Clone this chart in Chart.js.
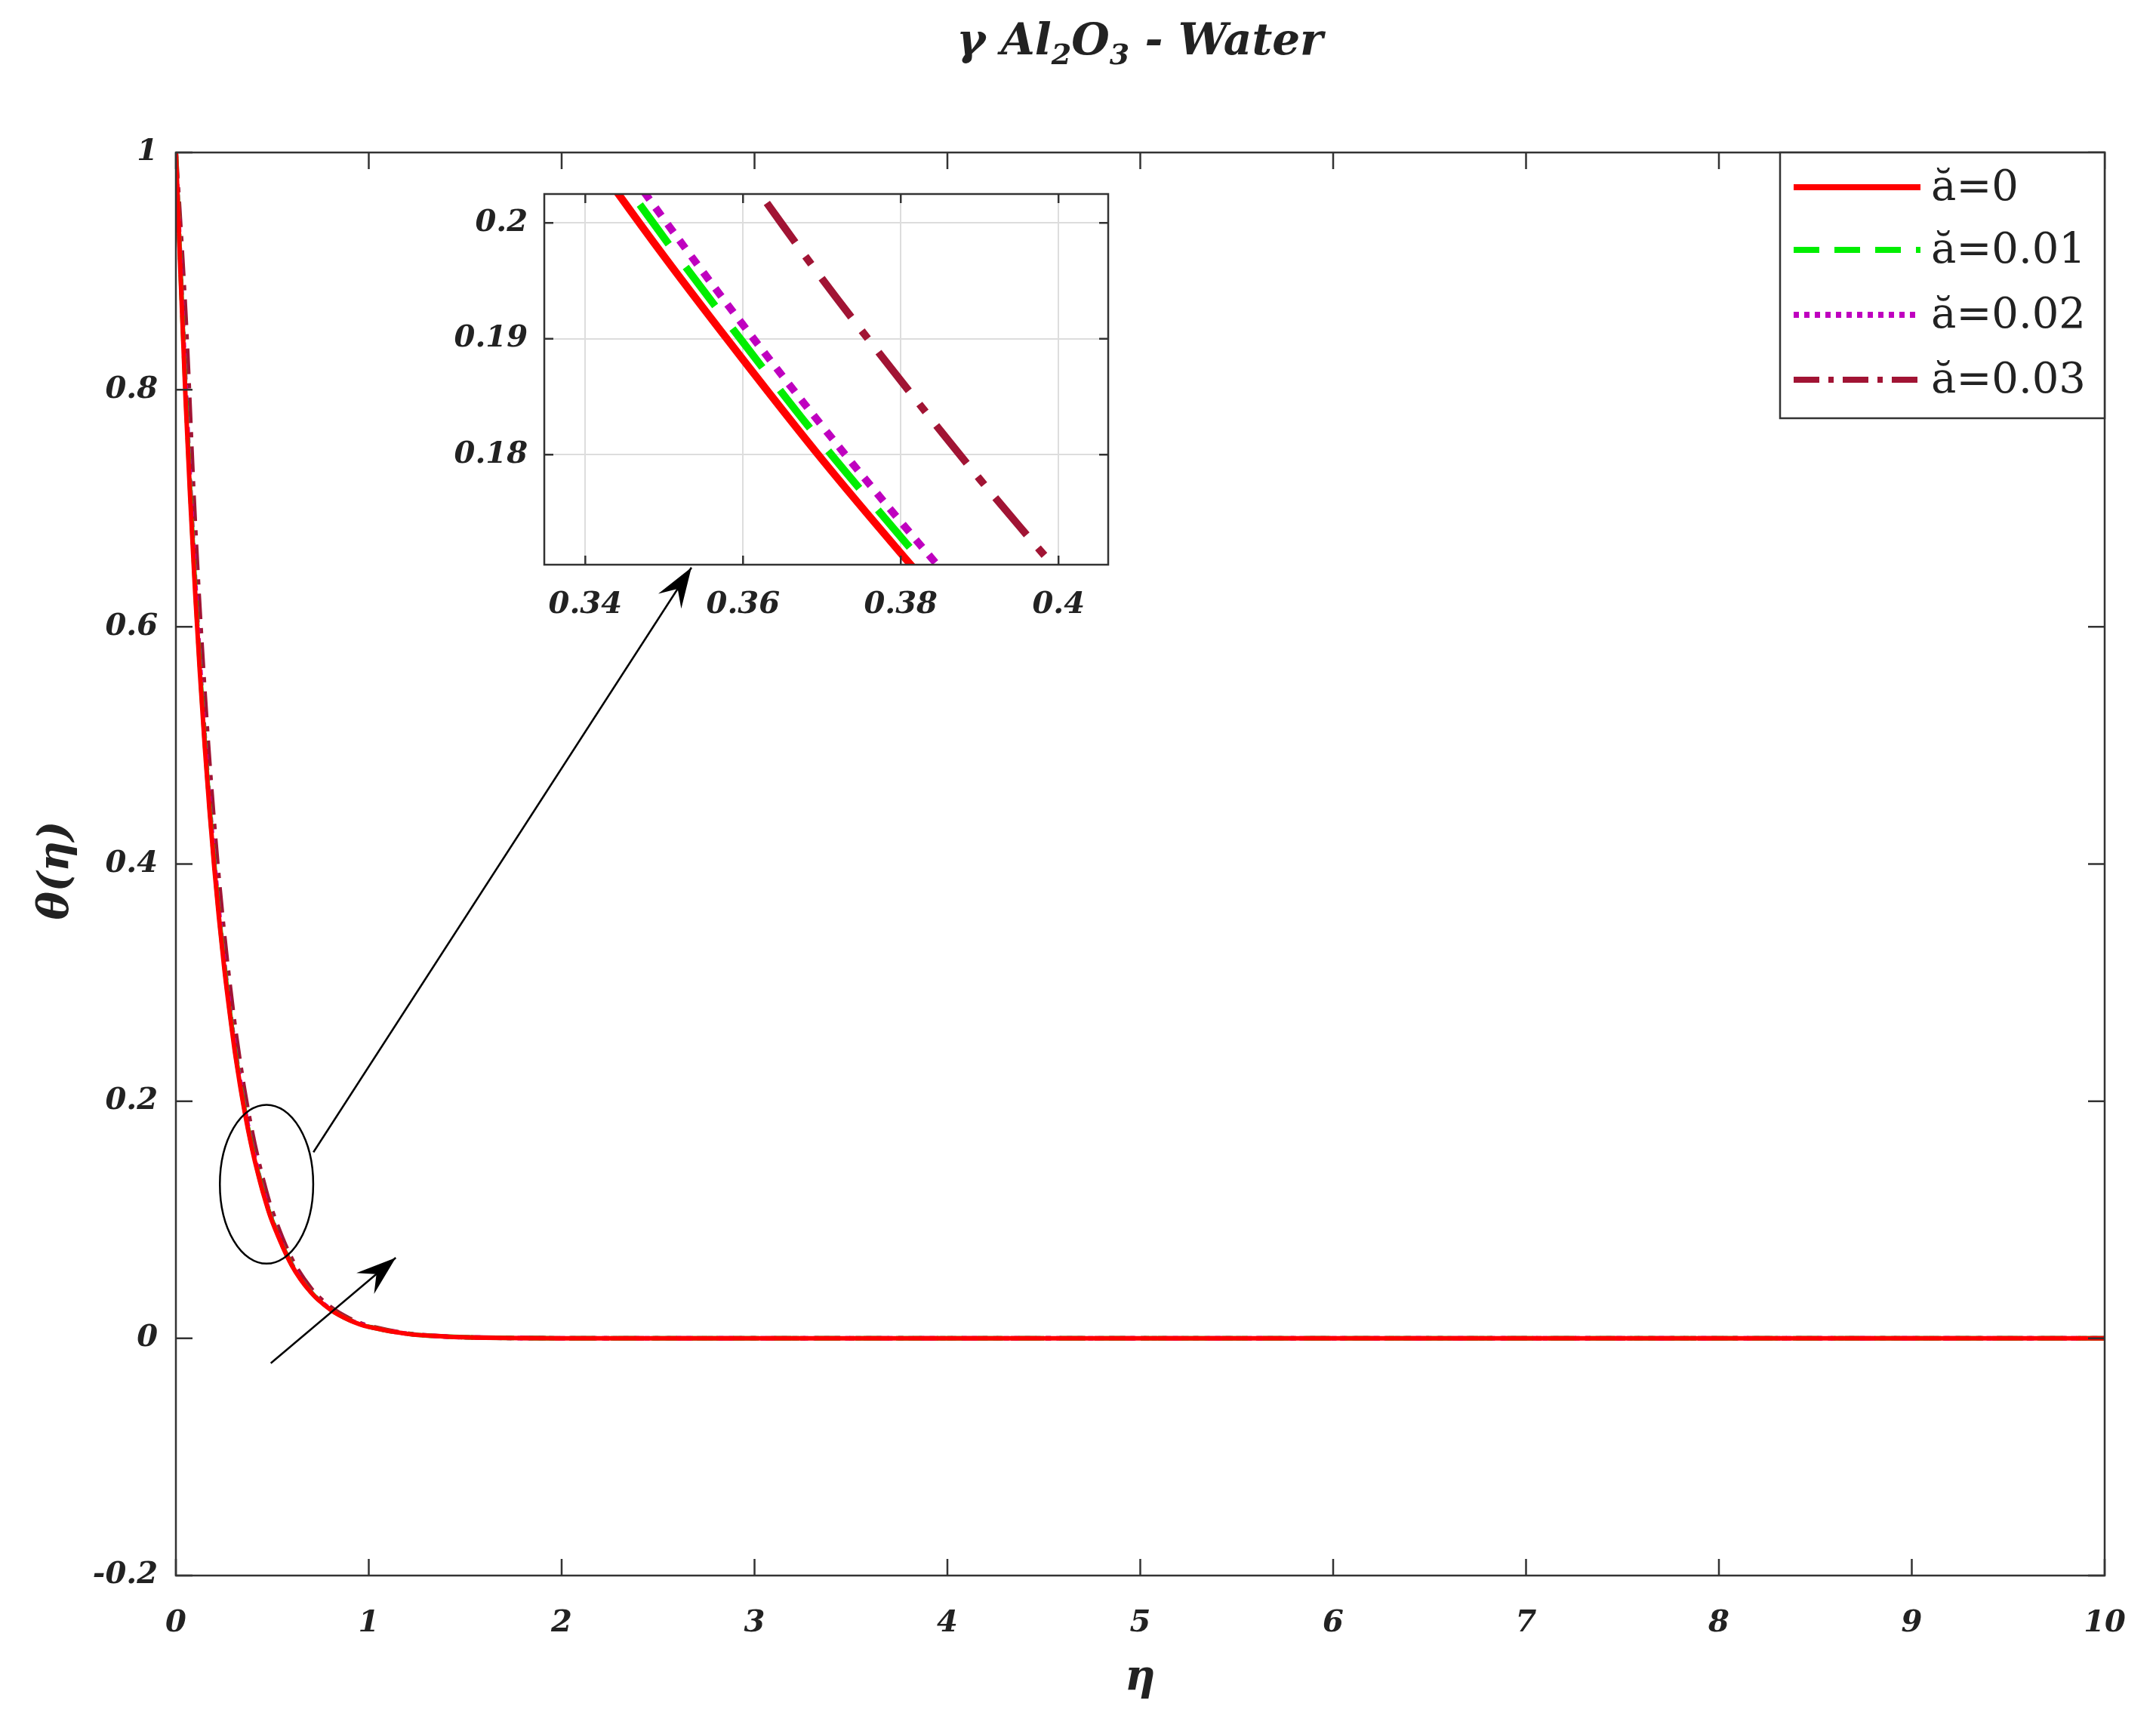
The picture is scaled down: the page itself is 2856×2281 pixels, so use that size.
<!DOCTYPE html>
<html><head><meta charset="utf-8">
<script src="https://cdn.jsdelivr.net/npm/chart.js@4"></script>
<style>
body{margin:0;background:#fff;width:2856px;height:2281px;position:relative;overflow:hidden;font-family:"DejaVu Serif",serif}
canvas{position:absolute}
.t{position:absolute;font-weight:bold;font-style:italic;color:#222}
</style></head><body>
<canvas id="main" width="2856" height="2281" style="left:0;top:0;width:2856px;height:2281px"></canvas>
<canvas id="inset" width="940" height="639" style="left:560px;top:211px;width:940px;height:639px"></canvas>
<div class="t" style="left:0;width:3020px;top:18px;text-align:center;font-size:58px;font-family:'DejaVu Serif'">γ Al<sub style="font-size:38px">2</sub>O<sub style="font-size:38px">3</sub> - Water</div>
<div class="t" style="left:1490px;top:2185px;font-size:56px">η</div>
<div class="t" style="left:-10px;top:1120px;font-size:56px;transform:rotate(-90deg);transform-origin:center;width:160px;text-align:center">θ(η)</div>
<script>
const eta = [0,0.05,0.1,0.15,0.2,0.25,0.3,0.33,0.34,0.35,0.36,0.37,0.38,0.39,0.4,0.41,0.45,0.5,0.6,0.7,0.8,0.9,1,1.2,1.4,1.6,2,3,4,5,6,7,8,9,10];
const theta_a0 = [1,0.7929,0.6288,0.4986,0.3953,0.3135,0.2486,0.2163,0.2065,0.1971,0.1882,0.1796,0.1715,0.1637,0.1563,0.1492,0.1240,0.0983,0.0618,0.0388,0.0244,0.0154,0.0097,0.0038,0.0015,0.0006,0.0001,0,0,0,0,0,0,0,0];
const theta_a001 = [1,0.7990,0.6340,0.5026,0.3985,0.3160,0.2506,0.2180,0.2082,0.1987,0.1897,0.1810,0.1729,0.1650,0.1576,0.1504,0.1250,0.0991,0.0623,0.0391,0.0246,0.0155,0.0098,0.0038,0.0015,0.0006,0.0001,0,0,0,0,0,0,0,0];
const theta_a002 = [1,0.8056,0.6389,0.5066,0.4016,0.3185,0.2526,0.2198,0.2098,0.2003,0.1912,0.1825,0.1742,0.1663,0.1588,0.1516,0.1260,0.0999,0.0628,0.0394,0.0248,0.0156,0.0099,0.0039,0.0015,0.0006,0.0001,0,0,0,0,0,0,0,0];
const theta_a003 = [1,0.8619,0.6835,0.5420,0.4297,0.3408,0.2702,0.2351,0.2245,0.2142,0.2046,0.1952,0.1864,0.1779,0.1699,0.1622,0.1348,0.1069,0.0672,0.0422,0.0265,0.0167,0.0105,0.0041,0.0016,0.0007,0.0001,0,0,0,0,0,0,0,0];
const seriesLabels = ["ă=0","ă=0.01","ă=0.02","ă=0.03"];
const xTicksMain = [0,1,2,3,4,5,6,7,8,9,10];
const yTicksMain = [-0.2,0,0.2,0.4,0.6,0.8,1];
const xTicksInset = [0.34,0.36,0.38,0.4];
const yTicksInset = [0.18,0.19,0.2];

const colors = ["#ff0000","#00ee00","#bf00bf","#a11434"];
const dashes = [[],[34,20],[7,7],[34,12,7,12]];
const allY = [theta_a0,theta_a001,theta_a002,theta_a003];
const tickFont = {family:"DejaVu Serif",size:40,weight:"bold",style:"italic"};
const fmt = v => String(parseFloat(v.toFixed(3)));

function mkData(scaleDash, lw){
  return {datasets: allY.map((ys,i)=>({label:seriesLabels[i],data:eta.map((x,j)=>({x,y:ys[j]})),
    borderColor:colors[i],borderWidth:lw,borderDash:dashes[i].map(d=>d*scaleDash),pointRadius:0,tension:0.35,fill:false}))};
}
function boxTicks(opts){ return {id:'box',afterDraw(c){
  const {ctx,chartArea:a,scales:{x,y}}=c; ctx.save(); ctx.strokeStyle='#333'; ctx.lineWidth=opts.lw;
  ctx.strokeRect(a.left,a.top,a.right-a.left,a.bottom-a.top);
  const L=opts.len; ctx.beginPath();
  opts.xt.forEach(v=>{const p=x.getPixelForValue(v); ctx.moveTo(p,a.bottom);ctx.lineTo(p,a.bottom-L);ctx.moveTo(p,a.top);ctx.lineTo(p,a.top+L);});
  opts.yt.forEach(v=>{const p=y.getPixelForValue(v); ctx.moveTo(a.left,p);ctx.lineTo(a.left+L,p);ctx.moveTo(a.right,p);ctx.lineTo(a.right-L,p);});
  ctx.stroke(); ctx.restore();}}; }

const bg={id:'bg',beforeDraw(c){const {ctx,chartArea:a}=c;ctx.save();ctx.fillStyle='#fff';ctx.fillRect(a.left,a.top,a.right-a.left,a.bottom-a.top);ctx.restore();}};

const annot={id:'annot',afterDraw(c){
  const {ctx,scales:{x,y}}=c; ctx.save(); ctx.strokeStyle='#000'; ctx.fillStyle='#000'; ctx.lineWidth=2.5;
  const cx=x.getPixelForValue(0.47), cy=y.getPixelForValue(0.13);
  const rx=x.getPixelForValue(0.47+0.242)-cx, ry=cy-y.getPixelForValue(0.13+0.067);
  ctx.beginPath(); ctx.ellipse(cx,cy,rx,ry,0,0,2*Math.PI); ctx.stroke();
  function arrow(x1,y1,x2,y2){const X1=x.getPixelForValue(x1),Y1=y.getPixelForValue(y1),X2=x.getPixelForValue(x2),Y2=y.getPixelForValue(y2);
    ctx.beginPath();ctx.moveTo(X1,Y1);ctx.lineTo(X2,Y2);ctx.stroke();
    const ang=Math.atan2(Y2-Y1,X2-X1),h=56,w=0.33;
    ctx.beginPath();ctx.moveTo(X2,Y2);ctx.lineTo(X2-h*Math.cos(ang-w),Y2-h*Math.sin(ang-w));
    ctx.lineTo(X2-h*0.6*Math.cos(ang),Y2-h*0.6*Math.sin(ang));
    ctx.lineTo(X2-h*Math.cos(ang+w),Y2-h*Math.sin(ang+w));ctx.closePath();ctx.fill();}
  arrow(0.713,0.157,2.673,0.650); arrow(0.492,-0.021,1.140,0.068);
  const lx=2358,ly=202,lw=430,lh=352; ctx.fillStyle='#fff';ctx.fillRect(lx,ly,lw,lh);
  ctx.strokeStyle='#333';ctx.lineWidth=2.5;ctx.strokeRect(lx,ly,lw,lh);
  const rows=[248,331,417,503];
  rows.forEach((ry2,i)=>{ctx.strokeStyle=colors[i];ctx.lineWidth=8;ctx.setLineDash(dashes[i]);
    ctx.beginPath();ctx.moveTo(2376,ry2);ctx.lineTo(2544,ry2);ctx.stroke();ctx.setLineDash([]);
    ctx.fillStyle='#222';ctx.font='56px "DejaVu Serif"';ctx.textBaseline='middle';ctx.fillText(seriesLabels[i],2558,ry2+2);});
  ctx.restore();}};

new Chart(document.getElementById('main'),{type:'line',data:mkData(1,6),
  options:{responsive:false,animation:false,devicePixelRatio:1,
    layout:{padding:{top:202,right:68,left:0,bottom:0}},
    plugins:{legend:{display:false},tooltip:{enabled:false}},
    scales:{
      x:{type:'linear',min:0,max:10,grid:{display:false},border:{display:false},
        afterBuildTicks:s=>{s.ticks=xTicksMain.map(v=>({value:v}));},
        afterFit:s=>{s.height=194;},
        ticks:{font:tickFont,color:'#222',padding:32,maxRotation:0,callback:v=>fmt(v)}},
      y:{type:'linear',min:-0.2,max:1,grid:{display:false},border:{display:false},
        afterBuildTicks:s=>{s.ticks=yTicksMain.map(v=>({value:v}));},
        afterFit:s=>{s.width=233;},
        ticks:{font:tickFont,color:'#222',padding:16,callback:v=>fmt(v)}}}},
  plugins:[boxTicks({lw:2.5,len:22,xt:xTicksMain,yt:yTicksMain}),annot]});

new Chart(document.getElementById('inset'),{type:'line',data:mkData(1.9,10),
  options:{responsive:false,animation:false,devicePixelRatio:1,
    layout:{padding:{top:17,right:32,left:0,bottom:0}},
    plugins:{legend:{display:false},tooltip:{enabled:false}},
    scales:{
      x:{type:'linear',min:0.3348,max:0.4063,grid:{color:'#ddd',lineWidth:2,drawTicks:false},border:{display:false},
        afterBuildTicks:s=>{s.ticks=xTicksInset.map(v=>({value:v}));},
        afterFit:s=>{s.height=102;},
        ticks:{font:tickFont,color:'#222',padding:30,maxRotation:0,callback:v=>fmt(v)}},
      y:{type:'linear',min:0.1705,max:0.2025,grid:{color:'#ddd',lineWidth:2,drawTicks:false},border:{display:false},
        afterBuildTicks:s=>{s.ticks=yTicksInset.map(v=>({value:v}));},
        afterFit:s=>{s.width=161;},
        ticks:{font:tickFont,color:'#222',padding:22,callback:v=>fmt(v)}}}},
  plugins:[bg,boxTicks({lw:2.5,len:12,xt:xTicksInset,yt:yTicksInset})]});
</script></body></html>
